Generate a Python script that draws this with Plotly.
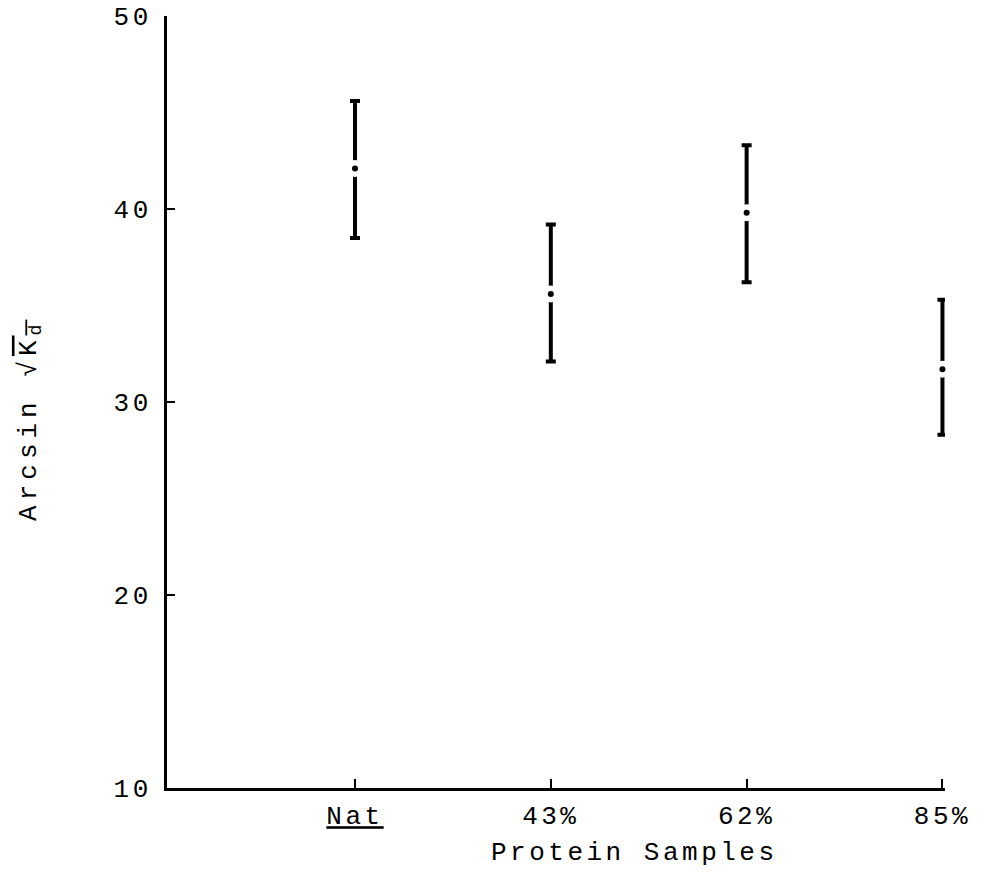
import plotly.graph_objects as go

categories = ["Nat", "43%", "62%", "85%"]
cat_labels = ["<u>Nat</u>", "43%", "62%", "85%"]
means = [42.1, 35.6, 39.8, 31.7]
highs = [45.6, 39.2, 43.3, 35.3]
lows = [38.5, 32.1, 36.2, 28.3]
y_ticks = [10, 20, 30, 40, 50]

xpos = list(range(len(categories)))
err_plus = [h - m for h, m in zip(highs, means)]
err_minus = [m - l for m, l in zip(means, lows)]

FONT = "Liberation Mono, Courier New, monospace"
SP = "letter-spacing:3.5px"

fig = go.Figure()
fig.add_trace(go.Scatter(
    x=xpos, y=means, mode="markers",
    marker=dict(size=17, color="white"),
    error_y=dict(type="data", symmetric=False, array=err_plus, arrayminus=err_minus,
                 color="black", thickness=4, width=5),
    cliponaxis=False, showlegend=False, hoverinfo="skip"))
fig.add_trace(go.Scatter(
    x=xpos, y=means, mode="markers",
    marker=dict(size=6, color="black"),
    cliponaxis=False, showlegend=False))

# page has an 8px body margin; figure is sized to fit inside it
OFF = 8
W, H = 981 - 2 * OFF, 886 - 2 * OFF
X0, X1 = -0.96, 3.0          # data values at page x 167 and 942
X_END = 3.013                # small extension so the last bar is not clipped
px_per = (942 - 167) / (X1 - X0)
right_px = 942 + (X_END - X1) * px_per
L, T = 167 - OFF, 16 - OFF
R = W - (right_px - OFF)
B = H - (788 - OFF)
PW = W - L - R

def px_x(p):
    return (p - OFF - L) / PW

def px_y(p):
    return (H - B - (p - OFF)) / (H - T - B)

fig.update_layout(
    width=W, height=H,
    margin=dict(l=L, r=R, t=T, b=B),
    paper_bgcolor="white", plot_bgcolor="white",
    font=dict(family=FONT, size=26, color="black"),
    xaxis=dict(range=[X0, X_END], tickvals=xpos,
               ticktext=[f"<span style='{SP}'>{t}</span>" for t in cat_labels],
               showline=True, linecolor="black", linewidth=3,
               ticks="inside", ticklen=9, tickwidth=2, tickcolor="black",
               showgrid=False, zeroline=False, ticklabelstandoff=2,
               ticklabeloverflow="allow",
               automargin=False, tickfont=dict(family=FONT, size=26)),
    yaxis=dict(range=[10, 50], tickvals=y_ticks,
               ticktext=[f"<span style='{SP}'>{v}</span>" for v in y_ticks],
               showline=True, linecolor="black", linewidth=3,
               ticks="inside", ticklen=8, tickwidth=2, tickcolor="black",
               showgrid=False, zeroline=False, ticklabelstandoff=7,
               ticklabeloverflow="allow",
               automargin=False, tickfont=dict(family=FONT, size=26)),
    annotations=[
        dict(text=f"<span style='{SP}'>Protein Samples</span>",
             xref="paper", yref="paper", x=px_x(634), y=px_y(853),
             xanchor="center", yanchor="middle", showarrow=False,
             font=dict(family=FONT, size=26)),
        dict(text="<span style='letter-spacing:5px'>Arcsin \u221a<span style='text-decoration:overline'>K<sub>d</sub></span></span>",
             xref="paper", yref="paper", x=px_x(30), y=px_y(420),
             xanchor="center", yanchor="middle", showarrow=False, textangle=-90,
             font=dict(family=FONT, size=26)),
    ],
)

fig.write_html("out.html")
